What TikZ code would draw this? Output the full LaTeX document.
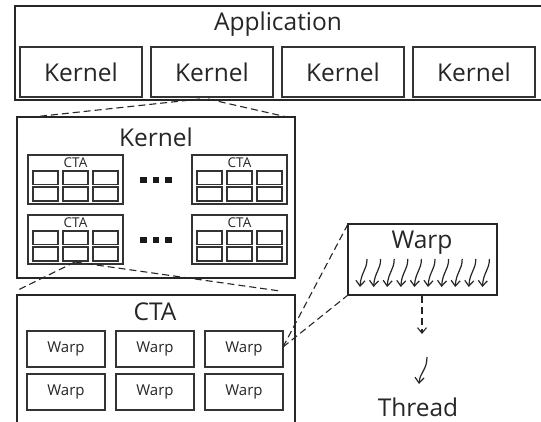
\documentclass[tikz,border=0pt]{standalone}
\usepackage{fontspec}
\setmainfont{Open Sans}
\usetikzlibrary{arrows.meta}
\tikzset{
  outerbox/.style={draw=black!85, line width=2pt, fill=white},
  innerbox/.style={draw=black!80, line width=1.2pt, fill=white},
  cellbox/.style={draw=black!80, line width=1.1pt, fill=white},
  zoomline/.style={draw=black!85, line width=1.1pt, dash pattern=on 7pt off 4pt},
  threadarrow/.style={draw=black!85, line width=1.2pt, -{Straight Barb[length=5.5pt,width=9pt]}},
  bigtext/.style={font=\fontsize{24.5}{28}\selectfont, text=black!85, inner sep=0pt},
  midtext/.style={font=\fontsize{15}{17}\selectfont, text=black!85, inner sep=0pt},
  smalltext/.style={font=\fontsize{13.5}{15}\selectfont, text=black!85, inner sep=0pt},
  dotsq/.style={fill=black!90, minimum size=6.5pt, inner sep=0pt, draw=none}
}
\begin{document}
\begin{tikzpicture}[x=1pt,y=-1pt]
\useasboundingbox (0,0) rectangle (541,421);
\clip (0,0) rectangle (541,421);
\fill[white] (0,0) rectangle (541,421);

% Application
\draw[outerbox] (15,6) rectangle (548,100);
\node[bigtext] (app) at (278,24) {Application};
\foreach \i/\xa in {1/20,2/151,3/282,4/413} {
  \draw[innerbox] (\xa,47) rectangle ++(122,50);
  \node[bigtext] (k\i) at (\xa+61,72) {Kernel};
}
\coordinate (k2b1) at (200,99);
\coordinate (k2b2) at (208,99);

% Kernel box
\draw[outerbox] (17,117) rectangle (295,278);
\coordinate (kTL) at (33,117);
\coordinate (kTR) at (287,117);
\node[bigtext] (kt) at (156,137) {Kernel};
\foreach \n/\xa/\ya in {a/28/155,b/192/155,c/28/215,d/192/215} {
  \draw[innerbox] (\xa,\ya) rectangle ++(95,49);
  \node[smalltext] (cta\n) at (\xa+47.5,\ya+8) {CTA};
  \foreach \cx in {5,35,65} {
    \draw[cellbox] (\xa+\cx,\ya+16) rectangle ++(25,13.5);
    \draw[cellbox] (\xa+\cx,\ya+32) rectangle ++(25,14);
  }
}
\foreach \y/\r in {180/1,240/2} {
  \node[dotsq] (d\r a) at (143.5,\y) {};
  \node[dotsq] (d\r b) at (156,\y) {};
  \node[dotsq] (d\r c) at (168.5,\y) {};
}
\coordinate (ctab) at (75,262);

% CTA box
\draw[outerbox] (17,295) rectangle (295,423);
\coordinate (cTL) at (16,291);
\coordinate (cTR) at (280,291);
\node[bigtext] (ct) at (155,312) {CTA};
\foreach \r/\ya in {1/331,2/374} {
  \foreach \c/\xa in {1/27,2/116,3/205} {
    \draw[innerbox] (\xa,\ya) rectangle ++(78,36);
    \node[midtext] (w\r\c) at (\xa+39,\ya+18) {Warp};
  }
}
\coordinate (wr) at (283,347);

% Warp box
\draw[outerbox] (348,224) rectangle (497,295);
\coordinate (wTL) at (348,224);
\coordinate (wBL) at (348,295);
\node[bigtext] (wt) at (422,243) {Warp};
\foreach \i in {0,...,9} {
  \draw[threadarrow] (360+\i*13.6+7,259) .. controls (360+\i*13.6+7,270) and (360+\i*13.6+1,272) .. (360+\i*13.6,287);
}
\coordinate (wb) at (422,296);
\coordinate (wa) at (422,334);
\draw[zoomline, -{Straight Barb[length=5.5pt,width=9pt]}] (wb) -- (wa);
\coordinate (ts) at (427,357);
\coordinate (te) at (419,384);
\draw[threadarrow] (ts) .. controls (427,370) and (420,372) .. (te);
\node[bigtext] (thr) at (418,407) {Thread};

% zoom lines
\draw[zoomline] (k2b1) -- (kTL);
\draw[zoomline] (k2b2) -- (kTR);
\draw[zoomline] (ctab) -- (cTL);
\draw[zoomline] (ctab) -- (cTR);
\draw[zoomline] (wr) -- (wTL);
\draw[zoomline] (wr) -- (wBL);
\end{tikzpicture}
\end{document}
